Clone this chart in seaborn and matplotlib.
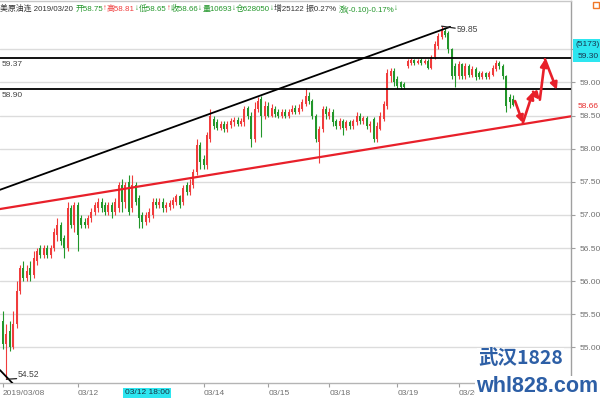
import matplotlib
matplotlib.use("Agg")
import matplotlib.pyplot as plt
from matplotlib.patches import Rectangle
from matplotlib.transforms import blended_transform_factory
import pandas as pd
import seaborn as sns

# ---- 美原油连, hourly candles 2019/03/08 - 2019/03/20 ----
opens = [55.40, 55.05, 55.25, 55.00, 55.35, 55.85, 56.20, 56.05, 56.20, 56.10,
         56.30, 56.50, 56.40, 56.50, 56.40, 56.50, 56.70, 56.85, 56.65, 56.50,
         57.10, 56.85, 57.15, 56.95, 56.90, 56.85, 56.95, 57.05, 57.10, 57.20,
         57.15, 57.05, 57.15, 57.05, 57.10, 57.45, 57.20, 57.50, 57.10, 57.45,
         57.25, 57.00, 56.90, 56.95, 57.00, 57.20, 57.15, 57.20, 57.10, 57.12,
         57.15, 57.20, 57.28, 57.20, 57.45, 57.35, 57.45, 57.65, 58.05, 57.85,
         57.75, 58.15, 58.45, 58.40, 58.32, 58.38, 58.30, 58.36, 58.40, 58.44,
         58.38, 58.40, 58.62, 58.50, 58.15, 58.60, 58.75, 58.50, 58.65, 58.50,
         58.60, 58.55, 58.50, 58.56, 58.50, 58.55, 58.62, 58.55, 58.60, 58.68,
         58.80, 58.72, 58.50, 58.10, 58.30, 58.60, 58.50, 58.56, 58.42, 58.35,
         58.42, 58.32, 58.40, 58.35, 58.40, 58.50, 58.42, 58.46, 58.35, 58.45,
         58.15, 58.30, 58.45, 58.65, 59.10, 59.18, 59.05, 59.00, 58.98, 59.25,
         59.30, 59.34, 59.30, 59.34, 59.30, 59.32, 59.22, 59.38, 59.55, 59.68,
         59.78, 59.75, 59.50, 59.25, 59.10, 59.28, 59.10, 59.25, 59.12, 59.20,
         59.15, 59.08, 59.14, 59.08, 59.12, 59.20, 59.30, 59.25, 59.10, 58.78,
         58.75]
highs = [55.55, 55.35, 55.40, 55.55, 56.00, 56.25, 56.30, 56.25, 56.30, 56.45,
         56.50, 56.55, 56.55, 56.55, 56.55, 56.80, 56.95, 56.90, 56.70, 57.20,
         57.15, 57.20, 57.20, 57.00, 56.95, 57.00, 57.10, 57.20, 57.25, 57.25,
         57.20, 57.20, 57.20, 57.25, 57.50, 57.55, 57.50, 57.60, 57.60, 57.50,
         57.30, 57.05, 57.05, 57.10, 57.25, 57.25, 57.25, 57.25, 57.20, 57.22,
         57.27, 57.32, 57.30, 57.45, 57.50, 57.55, 57.70, 58.15, 58.10, 57.90,
         58.25, 58.60, 58.50, 58.45, 58.42, 58.42, 58.42, 58.46, 58.48, 58.48,
         58.46, 58.65, 58.65, 58.55, 58.70, 58.78, 58.80, 58.72, 58.70, 58.68,
         58.64, 58.60, 58.60, 58.60, 58.60, 58.66, 58.66, 58.68, 58.75, 58.92,
         58.85, 58.75, 58.52, 58.35, 58.65, 58.65, 58.62, 58.60, 58.45, 58.46,
         58.45, 58.44, 58.44, 58.45, 58.55, 58.54, 58.50, 58.50, 58.42, 58.48,
         58.40, 58.55, 58.72, 59.20, 59.22, 59.22, 59.10, 59.02, 59.00, 59.35,
         59.37, 59.36, 59.36, 59.37, 59.36, 59.35, 59.42, 59.62, 59.75, 59.85,
         59.82, 59.78, 59.52, 59.30, 59.32, 59.30, 59.30, 59.28, 59.25, 59.23,
         59.18, 59.17, 59.16, 59.18, 59.26, 59.34, 59.33, 59.28, 59.12, 58.82,
         58.81]
lows = [54.98, 54.52, 54.95, 54.98, 55.30, 55.80, 56.00, 56.00, 56.00, 56.05,
        56.25, 56.35, 56.35, 56.35, 56.35, 56.45, 56.60, 56.55, 56.35, 56.45,
        56.80, 56.75, 56.45, 56.80, 56.80, 56.80, 56.90, 57.00, 57.05, 57.05,
        57.00, 57.00, 56.95, 57.00, 57.05, 57.05, 57.10, 57.00, 57.05, 57.15,
        56.80, 56.80, 56.85, 56.90, 56.95, 57.10, 57.10, 57.05, 57.05, 57.08,
        57.10, 57.15, 57.10, 57.15, 57.30, 57.30, 57.40, 57.60, 57.70, 57.70,
        57.70, 58.10, 58.30, 58.28, 58.28, 58.25, 58.25, 58.32, 58.35, 58.34,
        58.35, 58.35, 58.45, 58.03, 58.10, 58.55, 58.18, 58.45, 58.48, 58.48,
        58.48, 58.46, 58.47, 58.46, 58.47, 58.52, 58.52, 58.52, 58.57, 58.65,
        58.68, 58.45, 58.10, 57.78, 58.25, 58.45, 58.45, 58.35, 58.30, 58.30,
        58.20, 58.28, 58.30, 58.30, 58.36, 58.38, 58.38, 58.30, 58.25, 58.10,
        58.10, 58.28, 58.42, 58.60, 59.00, 58.95, 58.90, 58.90, 58.90, 59.22,
        59.27, 59.27, 59.28, 59.27, 59.28, 59.20, 59.20, 59.35, 59.50, 59.65,
        59.68, 59.45, 59.05, 58.93, 59.05, 59.05, 59.05, 59.08, 59.08, 59.04,
        59.05, 59.06, 59.05, 59.06, 59.10, 59.18, 59.20, 59.05, 58.55, 58.62,
        58.65]
closes = [55.05, 55.20, 55.00, 55.35, 55.85, 56.20, 56.05, 56.15, 56.10, 56.35,
          56.45, 56.40, 56.50, 56.40, 56.50, 56.75, 56.85, 56.60, 56.50, 57.10,
          56.85, 57.15, 56.70, 56.85, 56.85, 56.95, 57.05, 57.15, 57.20, 57.10,
          57.05, 57.15, 57.05, 57.20, 57.45, 57.20, 57.45, 57.05, 57.45, 57.20,
          56.95, 56.90, 57.00, 57.05, 57.20, 57.15, 57.20, 57.10, 57.15, 57.18,
          57.22, 57.28, 57.15, 57.40, 57.35, 57.45, 57.65, 58.05, 57.80, 57.75,
          58.20, 58.50, 58.35, 58.32, 58.38, 58.30, 58.38, 58.42, 58.44, 58.38,
          58.42, 58.60, 58.50, 58.15, 58.60, 58.72, 58.50, 58.65, 58.50, 58.62,
          58.52, 58.50, 58.55, 58.50, 58.56, 58.60, 58.55, 58.62, 58.70, 58.80,
          58.72, 58.50, 58.15, 58.30, 58.60, 58.52, 58.56, 58.40, 58.35, 58.42,
          58.32, 58.40, 58.35, 58.42, 58.50, 58.42, 58.46, 58.35, 58.38, 58.15,
          58.35, 58.50, 58.68, 59.15, 59.18, 59.00, 58.95, 58.93, 58.93, 59.32,
          59.34, 59.30, 59.33, 59.30, 59.33, 59.22, 59.38, 59.58, 59.70, 59.78,
          59.72, 59.50, 59.10, 59.10, 59.28, 59.10, 59.25, 59.12, 59.20, 59.08,
          59.08, 59.14, 59.08, 59.15, 59.22, 59.30, 59.25, 59.10, 58.65, 58.70,
          58.66]

# session labels along the time axis (candle index, text)
date_pos = [0, 22, 59, 78, 96, 116, 134]
date_labels = ["2019/03/08", "03/12", "03/14", "03/15", "03/18", "03/19", "03/20"]

# price axis (59.50 sits under the crosshair tag, so it carries no text)
price_ticks = [55.0, 55.5, 56.0, 56.5, 57.0, 57.5, 58.0, 58.5, 59.0, 59.5]
price_tick_labels = ["55.00", "55.50", "56.00", "56.50", "57.00", "57.50",
                     "58.00", "58.50", "59.00", ""]

# hand-drawn studies
resist_x, resist_y = [-0.9, 131.5], [57.38, 59.84]
support_x, support_y = [-0.9, 167.1], [57.09, 58.49]
old_trend_x, old_trend_y = [-0.9, 4.1], [54.66, 54.39]
levels = [59.37, 58.90]
level_labels = ["59.37", "58.90"]
path_x = [150.6, 152.9, 155.9, 157.9, 159.4, 162.9]
path_y = [58.72, 58.39, 58.86, 58.74, 59.35, 58.89]

RED = "#f03c3c"
GREEN = "#22962a"
LINE_RED = "#e8202a"

sns.set_theme(style="white")
plt.rcParams["font.family"] = ["Liberation Sans", "Noto Sans CJK SC", "DejaVu Sans"]
plt.rcParams["axes.unicode_minus"] = False

df = pd.DataFrame({"open": opens, "high": highs, "low": lows, "close": closes})
df["idx"] = range(len(df))
df["up"] = df["close"] >= df["open"]
df["color"] = df["up"].map({True: RED, False: GREEN})

fig = plt.figure(figsize=(6, 4), dpi=100)
ax = fig.add_axes([0.0, 17 / 400, 571 / 600, 382 / 400])
ax.set_facecolor("white")

# candles: wicks then bodies
ax.vlines(df["idx"], df["low"], df["high"], colors=df["color"], lw=0.8, zorder=3)
body_lo = df[["open", "close"]].min(axis=1)
body_h = (df["close"] - df["open"]).abs().clip(lower=0.012)
ax.bar(df["idx"], body_h, bottom=body_lo, width=0.62, color=df["color"],
       linewidth=0, zorder=4)

# studies
sns.lineplot(x=resist_x, y=resist_y, color="black", lw=1.3, ax=ax, zorder=5)
sns.lineplot(x=old_trend_x, y=old_trend_y, color="black", lw=1.3, ax=ax, zorder=5)
sns.lineplot(x=support_x, y=support_y, color=LINE_RED, lw=1.6, ax=ax, zorder=5)
for lv, lab in zip(levels, level_labels):
    ax.axhline(lv, color="black", lw=1.3, zorder=5)
    ax.annotate(lab, xy=(0, lv),
                xycoords=blended_transform_factory(ax.transAxes, ax.transData),
                xytext=(2, -3), textcoords="offset pixels", va="top", ha="left",
                fontsize=6, color="#444444", zorder=6)

# projected path
for i in range(len(path_x) - 1):
    ax.annotate("", xy=(path_x[i + 1], path_y[i + 1]), xytext=(path_x[i], path_y[i]),
                arrowprops=dict(arrowstyle="-|>", color=LINE_RED, lw=1.9,
                                mutation_scale=10, shrinkA=0, shrinkB=0),
                zorder=6)

# extreme labels
hi_i = int(df["high"].idxmax())
lo_i = int(df["low"].idxmin())
ax.plot([hi_i, hi_i + 4], [df["high"][hi_i], df["high"][hi_i] - 0.03],
        color="#222222", lw=0.9, zorder=6)
ax.text(hi_i + 4.5, df["high"][hi_i] - 0.05, f"{df['high'][hi_i]:.2f}",
        fontsize=6.2, color="#444444", va="center", ha="left", zorder=6)
ax.plot([lo_i, lo_i + 3], [df["low"][lo_i], df["low"][lo_i] + 0.01],
        color="#222222", lw=0.9, zorder=6)
ax.text(lo_i + 3.4, df["low"][lo_i] + 0.07, f"{df['low'][lo_i]:.2f}",
        fontsize=6.2, color="#444444", va="center", ha="left", zorder=6)

# axes cosmetics
ax.set_xlim(-0.882, 167.06)
ax.set_ylim(54.464, 60.23)
ax.set_yticks(price_ticks)
ax.set_yticklabels(price_tick_labels)
ax.yaxis.tick_right()
ax.yaxis.grid(True, color="#dcdcdc", lw=1)
ax.xaxis.grid(False)
ax.set_axisbelow(True)
ax.tick_params(axis="y", right=True, left=False, length=3, width=0.8,
               color="#a0a0a0", labelsize=6, labelcolor="#707070", pad=3)
ax.set_xticks(date_pos)
ax.set_xticklabels(date_labels, ha="left")
ax.tick_params(axis="x", bottom=True, length=3, width=0.8, color="#a0a0a0",
               labelsize=6, labelcolor="#707070", pad=2)
ax.set_xlabel("")
ax.set_ylabel("")
ax.spines["left"].set_visible(False)
ax.spines["right"].set_color("#a0a0a0")
ax.spines["bottom"].set_color("#b4b4b4")
ax.spines["top"].set_color("#c8c8c8")
for s in ax.spines.values():
    s.set_linewidth(1)


def fx(px):
    return px / 600


def fy(py):
    return 1 - py / 400


# last price tag and crosshair tag on the price axis
fig.text(fx(578), fy(106), f"{closes[-1]:.2f}", color="#e83030", fontsize=6,
         va="center", ha="left", zorder=7)
fig.patches.append(Rectangle((fx(573), fy(62)), 27 / 600, 23 / 400,
                             transform=fig.transFigure, facecolor="#2de6f0",
                             edgecolor="none", zorder=5))
fig.text(fx(576), fy(45), "(5173)", color="#173650", fontsize=6, va="center",
         ha="left", zorder=7)
fig.text(fx(578), fy(56.5), "59.30", color="#173650", fontsize=6, va="center",
         ha="left", zorder=7)
fig.patches.append(Rectangle((fx(593), fy(8)), 6 / 600, 6 / 400,
                             transform=fig.transFigure, facecolor="none",
                             edgecolor="#f07828", lw=1, zorder=5))

# crosshair time tag
fig.text(fx(125), fy(393), "03/12 18:00", color="#183040", fontsize=6,
         va="center", ha="left", zorder=7,
         bbox=dict(facecolor="#2de6f0", edgecolor="none", pad=1.2))

# quote header
runs = [("美原油连 2019/03/20 ", "#333333"), ("开58.75", GREEN), ("↑", RED),
        ("高58.81", RED), ("↓", GREEN), ("低58.65", GREEN), ("↑", RED),
        ("收58.66", GREEN), ("↓", GREEN), ("量10693", GREEN), ("↓", GREEN),
        ("仓628050", GREEN), ("↓", GREEN), ("增25122 振0.27% ", "#333333"),
        ("涨(-0.10)-0.17%", GREEN), ("↓", GREEN)]
renderer = fig.canvas.get_renderer()
x = fx(0)
for txt, col in runs:
    t = fig.text(x, fy(9), txt, color=col, fontsize=5.7, va="center", ha="left",
                 zorder=7)
    x += t.get_window_extent(renderer).width / 600

# site mark
fig.text(fx(478), fy(358), "武汉1828", color="#2d5fa6", fontsize=14,
         fontweight="bold", va="center", ha="left", zorder=8,
         family=["Noto Sans CJK SC", "DejaVu Sans"],
         bbox=dict(facecolor="white", edgecolor="none", pad=0.5))
fig.text(fx(476), fy(387), "whl828.com", color="#2d5fa6", fontsize=15.5,
         fontweight="bold", va="center", ha="left", zorder=8,
         family=["Liberation Sans", "DejaVu Sans"],
         bbox=dict(facecolor="white", edgecolor="none", pad=0.5))

fig.savefig("out.png", dpi=100, facecolor="white")
